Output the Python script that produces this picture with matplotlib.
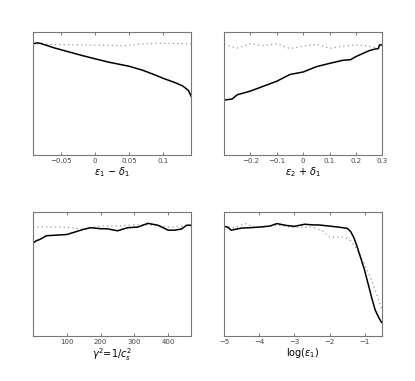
import numpy as np
import matplotlib
matplotlib.use("Agg")
import matplotlib.pyplot as plt

# panel 1: eps1 - delta1
p1_x = [-0.092, -0.085, -0.08, -0.06, -0.04, -0.02, 0.0, 0.02, 0.04, 0.05, 0.07, 0.09, 0.1, 0.12, 0.13, 0.138, 0.142]
p1_solid = [0.905, 0.912, 0.906, 0.870, 0.840, 0.810, 0.782, 0.755, 0.733, 0.722, 0.690, 0.648, 0.625, 0.585, 0.560, 0.525, 0.478]
p1_dot_x = [-0.092, -0.07, -0.05, -0.03, -0.01, 0.01, 0.03, 0.04, 0.05, 0.07, 0.09, 0.11, 0.13, 0.142]
p1_dot = [0.905, 0.900, 0.898, 0.896, 0.894, 0.893, 0.890, 0.888, 0.892, 0.903, 0.908, 0.907, 0.906, 0.905]

# panel 2: eps2 + delta1
p2_x = [-0.3, -0.27, -0.25, -0.2, -0.15, -0.1, -0.05, 0.0, 0.05, 0.1, 0.15, 0.18, 0.2, 0.25, 0.27, 0.285, 0.29, 0.3]
p2_solid = [0.447, 0.455, 0.490, 0.520, 0.560, 0.600, 0.655, 0.675, 0.718, 0.745, 0.770, 0.775, 0.800, 0.848, 0.860, 0.865, 0.895, 0.895]
p2_dot_x = [-0.3, -0.25, -0.2, -0.15, -0.1, -0.05, 0.0, 0.05, 0.1, 0.15, 0.2, 0.25, 0.3]
p2_dot = [0.895, 0.870, 0.905, 0.890, 0.905, 0.865, 0.885, 0.900, 0.867, 0.885, 0.895, 0.885, 0.860]

# panel 3: gamma^2 = 1/c_s^2
p3_x = [0, 10, 20, 40, 70, 100, 130, 150, 170, 200, 220, 250, 280, 310, 340, 370, 400, 420, 440, 455, 468]
p3_solid = [0.750, 0.770, 0.780, 0.810, 0.815, 0.820, 0.845, 0.862, 0.875, 0.867, 0.866, 0.850, 0.875, 0.880, 0.910, 0.895, 0.855, 0.855, 0.865, 0.895, 0.895]
p3_dot_x = [0, 50, 100, 150, 200, 250, 300, 350, 400, 440, 468]
p3_dot = [0.880, 0.882, 0.878, 0.862, 0.890, 0.888, 0.900, 0.895, 0.880, 0.885, 0.892]

# panel 4: log(eps1)
p4_x = [-5, -4.9, -4.8, -4.5, -4.2, -4, -3.7, -3.5, -3.2, -3, -2.7, -2.5, -2.3, -2, -1.7, -1.5, -1.4, -1.3, -1.2, -1.1, -1.0, -0.9, -0.8, -0.7, -0.6, -0.52]
p4_solid = [0.886, 0.880, 0.855, 0.872, 0.876, 0.880, 0.888, 0.908, 0.892, 0.886, 0.903, 0.898, 0.897, 0.888, 0.878, 0.870, 0.845, 0.790, 0.710, 0.620, 0.530, 0.420, 0.310, 0.210, 0.150, 0.110]
p4_dot_x = [-5, -4.7, -4.4, -4.2, -4, -3.5, -3, -2.5, -2.2, -2, -1.8, -1.6, -1.4, -1.2, -1.0, -0.8, -0.6, -0.52]
p4_dot = [0.886, 0.875, 0.908, 0.885, 0.876, 0.895, 0.876, 0.880, 0.850, 0.800, 0.798, 0.800, 0.770, 0.690, 0.580, 0.450, 0.290, 0.220]

panels = [
    (p1_x, p1_solid, p1_dot_x, p1_dot, (-0.092, 0.142), [-0.05, 0, 0.05, 0.1],
     ["\u22120.05", "0", "0.05", "0.1"], r"$\epsilon_1$ $-$ $\delta_1$"),
    (p2_x, p2_solid, p2_dot_x, p2_dot, (-0.3, 0.3), [-0.2, -0.1, 0, 0.1, 0.2, 0.3],
     ["\u22120.2", "\u22120.1", "0", "0.1", "0.2", "0.3"], r"$\epsilon_2$ + $\delta_1$"),
    (p3_x, p3_solid, p3_dot_x, p3_dot, (0, 468), [100, 200, 300, 400],
     ["100", "200", "300", "400"], r"$\gamma^2$=1/$c_s^2$"),
    (p4_x, p4_solid, p4_dot_x, p4_dot, (-5, -0.5), [-5, -4, -3, -2, -1],
     ["\u22125", "\u22124", "\u22123", "\u22122", "\u22121"], r"log($\epsilon_1$)"),
]

plt.rcParams["mathtext.fontset"] = "dejavusans"
fig = plt.figure(figsize=(4.15, 3.81), dpi=100)
rects = [[0.0795, 0.593, 0.381, 0.323], [0.540, 0.593, 0.381, 0.323],
         [0.0795, 0.118, 0.381, 0.325], [0.540, 0.118, 0.381, 0.325]]

for rect, (x, ys, xd, yd, xl, ticks, labels, xlabel) in zip(rects, panels):
    ax = fig.add_axes(rect)
    ax.plot(xd, yd, linestyle=(0, (1, 2.5)), color="#999999", lw=0.9)
    ax.plot(x, ys, color="black", lw=1.1)
    ax.set_xlim(*xl)
    ax.set_ylim(0, 1)
    ax.set_yticks([])
    ax.set_xticks(ticks)
    ax.set_xticklabels(labels)
    ax.tick_params(axis="x", direction="in", top=True, length=2, width=0.5,
                   labelsize=5, pad=2, colors="#444444")
    ax.set_xlabel(xlabel, fontsize=7, labelpad=1)
    for s in ax.spines.values():
        s.set_color("#777777")
        s.set_linewidth(0.8)

fig.savefig("out.png", dpi=100)
